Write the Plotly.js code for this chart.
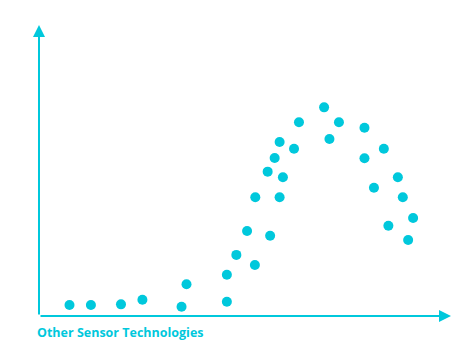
<!DOCTYPE html>
<html>
<head>
<meta charset="utf-8">
<script src="https://cdn.plot.ly/plotly-3.0.1.min.js"></script>
<style>html,body{margin:0;padding:0;background:#fff;}#chart{width:470px;height:350px;}</style>
</head>
<body>
<div id="chart"></div>
<script>
const xLabel = "Other Sensor Technologies";
const xValues = [7.4, 12.6, 19.9, 25.1, 34.6, 35.8, 45.6, 45.6, 52.4, 47.9, 50.5, 56.1, 52.5, 58.4, 55.5, 59.2, 57.2, 58.4, 61.9, 63.1, 69.2, 72.8, 70.5, 79.0, 79.0, 83.7, 81.3, 87.1, 88.3, 90.8, 84.8, 89.6];
const yValues = [3.8, 3.8, 4.0, 5.6, 3.2, 10.9, 4.9, 14.2, 17.5, 21.0, 29.2, 27.6, 40.8, 40.8, 49.6, 47.7, 54.3, 59.8, 57.5, 66.6, 71.7, 66.6, 60.8, 64.7, 54.2, 57.5, 44.1, 47.7, 40.8, 33.7, 31.0, 26.1];

const cyan = "#00c8dc";

const trace = {
  x: xValues, y: yValues, type: "scatter", mode: "markers",
  marker: {color: cyan, size: 10, line: {width: 0}},
  hoverinfo: "none", cliponaxis: false
};

const layout = {
  width: 470, height: 350,
  margin: {l: 39, r: 19, t: 25, b: 34},
  paper_bgcolor: "#ffffff", plot_bgcolor: "#ffffff",
  showlegend: false,
  xaxis: {range: [0, 100], showgrid: false, zeroline: false, showline: false, showticklabels: false, ticks: ""},
  yaxis: {range: [0, 100], showgrid: false, zeroline: false, showline: false, showticklabels: false, ticks: ""},
  annotations: [
    {xref: "paper", yref: "paper", x: 1, y: 0, axref: "pixel", ayref: "pixel", ax: -412, ay: 0,
     showarrow: true, arrowhead: 2, arrowsize: 1.2, arrowwidth: 2, arrowcolor: cyan, standoff: 0, startstandoff: 0, text: ""},
    {xref: "paper", yref: "paper", x: 0, y: 1, axref: "pixel", ayref: "pixel", ax: 0, ay: 291,
     showarrow: true, arrowhead: 2, arrowsize: 1.2, arrowwidth: 2, arrowcolor: cyan, standoff: 0, startstandoff: 0, text: ""},
    {xref: "paper", yref: "paper", x: 0, y: -0.058, xanchor: "left", yanchor: "middle", xshift: -3, showarrow: false,
     borderpad: 0,
     text: "<b>" + xLabel + "</b>", font: {family: "Open Sans, sans-serif", size: 12.5, color: cyan}}
  ]
};

Plotly.newPlot("chart", [trace], layout, {displayModeBar: false, staticPlot: true});
</script>
</body>
</html>
